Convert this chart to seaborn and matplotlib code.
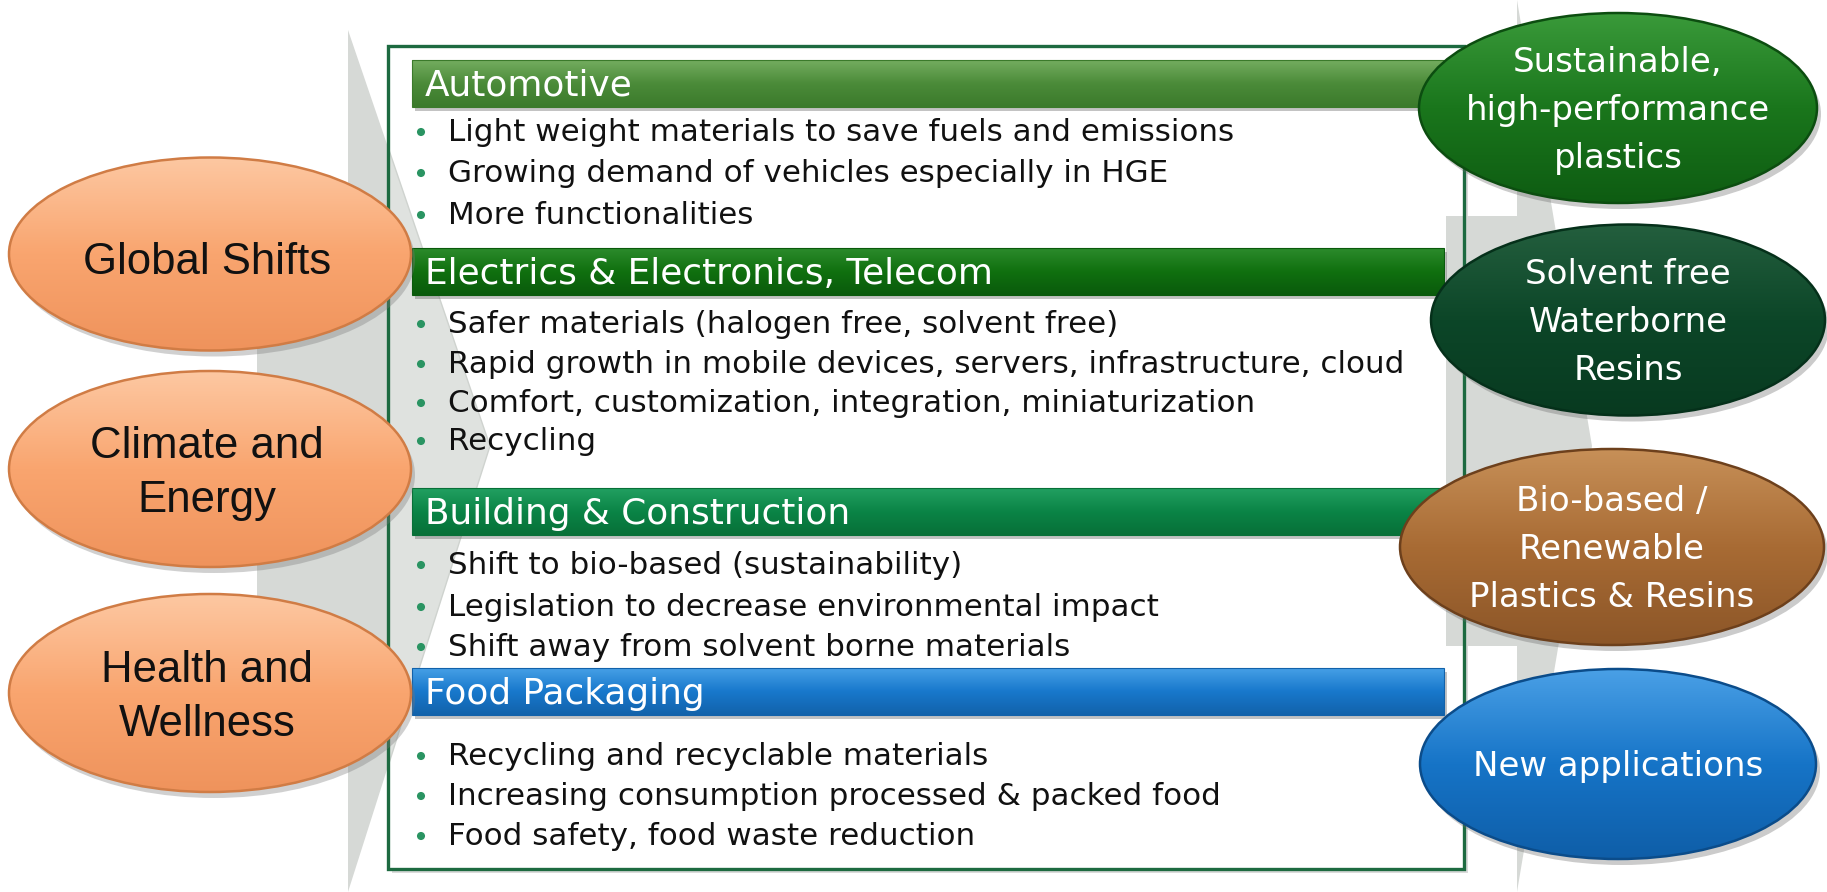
import numpy as np
import pandas as pd
import matplotlib
matplotlib.use("Agg")
import matplotlib.pyplot as plt
import seaborn as sns
from matplotlib.patches import Ellipse, Rectangle, Polygon
from matplotlib.colors import LinearSegmentedColormap

# --- content -------------------------------------------------------------
drivers = ["Global Shifts", "Climate and\nEnergy", "Health and\nWellness"]
sectors = ["Automotive", "Electrics & Electronics, Telecom",
           "Building & Construction", "Food Packaging"]
sector_points = [
    ["Light weight materials to save fuels and emissions",
     "Growing demand of vehicles especially in HGE",
     "More functionalities"],
    ["Safer materials (halogen free, solvent free)",
     "Rapid growth in mobile devices, servers, infrastructure, cloud",
     "Comfort, customization, integration, miniaturization",
     "Recycling"],
    ["Shift to bio-based (sustainability)",
     "Legislation to decrease environmental impact",
     "Shift away from solvent borne materials"],
    ["Recycling and recyclable materials",
     "Increasing consumption processed & packed food",
     "Food safety, food waste reduction"],
]
outcomes = ["Sustainable,\nhigh-performance\nplastics",
            "Solvent free\nWaterborne\nResins",
            "Bio-based /\nRenewable\nPlastics & Resins",
            "New applications"]

# --- layout (pixels, y downwards) ----------------------------------------
W, H = 1827, 892
driver_cy = [254, 469, 693]
driver_h = [193, 196, 198]
bar_top = [60, 248, 488, 668]
bar_h = 47
bullet_base = [[141, 182, 224], [333, 373, 412, 450],
               [574, 616, 656], [765, 805, 845]]
outcome_geom = [(1618, 108, 398, 190), (1628, 320, 394, 191),
                (1612, 547, 424, 196), (1618, 764, 396, 190)]

orange = ["#fdc8a2", "#f9a56f", "#ef935c"]
bar_cols = [["#74ad60", "#4b8b39", "#3b7a2b"],
            ["#2c8b2c", "#10700f", "#0a5a0c"],
            ["#22a061", "#0a8446", "#087038"],
            ["#46a0e6", "#1878cc", "#1262aa"]]
out_cols = [["#3a9a3a", "#1a761c", "#0e5c12"],
            ["#245f3e", "#0c4628", "#083a20"],
            ["#c79058", "#a86b34", "#8c5628"],
            ["#4aa0e6", "#1674c7", "#0f5ea8"]]
out_edge = ["#0c4d10", "#05301a", "#6d401c", "#0b4c8a"]

sns.set_theme(style="white")
plt.rcParams["font.family"] = ["DejaVu Sans"]

fig = plt.figure(figsize=(W / 100, H / 100), dpi=100)
ax = fig.add_axes([0, 0, 1, 1])


def shade(patch, colors, extent, z):
    patch.set_zorder(z + 0.01)
    ax.add_patch(patch)
    cmap = LinearSegmentedColormap.from_list("g", colors)
    grad = np.linspace(0, 1, 256).reshape(-1, 1)
    x0, x1, y0, y1 = extent
    im = ax.imshow(grad, cmap=cmap, extent=(x0, x1, y1, y0), aspect="auto",
                   zorder=z, interpolation="bicubic")
    im.set_clip_path(patch)


def lines(text, cx, cy, step, size, color, family, z):
    parts = text.split("\n")
    em = size * 100 / 72
    for i, s in enumerate(parts):
        yc = cy + (i - (len(parts) - 1) / 2) * step
        ax.text(cx, yc + 0.36 * em, s, ha="center", va="baseline",
                fontsize=size, color=color, family=family, zorder=z)


# grey arrows behind
gray = "#d6d9d6"
left_arrow = [(257, 215), (348, 215), (348, 30), (490, 446),
              (348, 892), (348, 680), (257, 680)]
ax.add_patch(Polygon(left_arrow, closed=True, fc=gray, ec="none", zorder=1))
ax.add_patch(Polygon([(1517, 0), (1592, 446), (1517, 892)],
                     closed=True, fc=gray, ec="none", zorder=1))

# main box: shadow, white fill, faint arrow showing through, border
ax.add_patch(Rectangle((392, 50), 1076, 823, fc="#9a9a9a", ec="none",
                       alpha=0.35, zorder=2))
box = Rectangle((388, 46), 1076, 823, fc="white", ec="none", zorder=3)
ax.add_patch(box)
ghost = Polygon(left_arrow, closed=True, fc="#dfe2df", ec="#cfd3cf",
                lw=1.0, zorder=3.2)
ax.add_patch(ghost)
ghost.set_clip_path(box)
ax.add_patch(Rectangle((1446, 216), 71, 430, fc=gray, ec="none", zorder=3.5))
ax.add_patch(Rectangle((388, 46), 1076, 823, fc="none", ec="#1d6a40",
                       lw=2.4, zorder=4))

# sector header bars and bullet lists
dots = []
for i, name in enumerate(sectors):
    top = bar_top[i]
    ax.add_patch(Rectangle((415, top + 4), 1032, bar_h, fc="#555555",
                           ec="none", alpha=0.35, zorder=5))
    shade(Rectangle((412, top), 1032, bar_h, fc="none",
                    ec=bar_cols[i][2], lw=0.8),
          bar_cols[i], (412, 1444, top, top + bar_h), 6)
    ax.text(425, top + 36, name, fontsize=25.8, color="white",
            va="baseline", ha="left", zorder=7)
    for j, pt in enumerate(sector_points[i]):
        yb = bullet_base[i][j]
        ax.text(448, yb, pt, fontsize=22.3, color="#111111",
                va="baseline", ha="left", zorder=7)
        dots.append({"x": 421, "y": yb - 9})

dots = pd.DataFrame(dots)
sns.scatterplot(data=dots, x="x", y="y", color="#2a9462", s=34,
                edgecolor="none", legend=False, ax=ax, zorder=7)

# driver ellipses on the left
for i, name in enumerate(drivers):
    cy, h = driver_cy[i], driver_h[i]
    ax.add_patch(Ellipse((214, cy + 6), 402, h, fc="#7a7a7a", ec="none",
                         alpha=0.35, zorder=8))
    shade(Ellipse((210, cy), 402, h, fc="none", ec="#d07c45", lw=1.8),
          orange, (9, 411, cy - h / 2, cy + h / 2), 9)
    off = 4 if "\n" not in name else 0
    lines(name, 207, cy + off, 54, 31.5, "#111111", "Liberation Sans", 10)

# outcome ellipses on the right
for i, name in enumerate(outcomes):
    cx, cy, w, h = outcome_geom[i]
    ax.add_patch(Ellipse((cx + 4, cy + 6), w, h, fc="#6a6a6a", ec="none",
                         alpha=0.35, zorder=8))
    shade(Ellipse((cx, cy), w, h, fc="none", ec=out_edge[i], lw=1.8),
          out_cols[i], (cx - w / 2, cx + w / 2, cy - h / 2, cy + h / 2), 9)
    lines(name, cx, cy, 48, 24.5, "white", "DejaVu Sans", 10)

ax.set_xlim(0, W)
ax.set_ylim(H, 0)
ax.set_axis_off()
fig.savefig("out.png", dpi=100)
